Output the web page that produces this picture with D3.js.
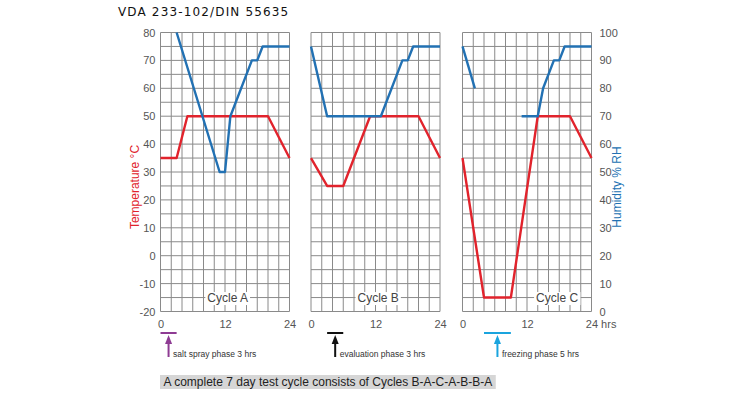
<!DOCTYPE html>
<html>
<head>
<meta charset="utf-8">
<script src="https://cdn.jsdelivr.net/npm/d3@7"></script>
<style>
  body { margin: 0; background: #fff; }
  svg { display: block; font-family: "Liberation Sans", Arial, sans-serif; }
</style>
</head>
<body>
<div id="chart"></div>
<script>
// values
var cycleNames = ["Cycle A", "Cycle B", "Cycle C"];
var cycleLabelHour = [12.5, 12.5, 17.6];   // where the cycle label sits (hrs)
var cycleLabelTemp = -15;

// temperature (°C) by hour, one array per cycle
var tempA = [[0, 35], [3, 35], [5, 50], [20, 50], [24, 35]];
var tempB = [[0, 35], [3, 25], [6, 25], [11, 50], [20, 50], [24, 35]];
var tempC = [[0, 35], [4, -15], [9, -15], [14, 50], [20, 50], [24, 35]];

// humidity (% RH) by hour, cycle C has a gap
var rhA = [[3, 100], [11, 50], [12, 50], [13, 70], [17, 90], [18, 90], [19, 95], [24, 95]];
var rhB = [[0, 95], [3, 70], [13, 70], [17, 90], [18, 90], [19, 95], [24, 95]];
var rhC = [[[0, 95], [2.3, 80]], [[11, 70], [14, 70], [15, 80], [17, 90], [18, 90], [19, 95], [24, 95]]];

var tempTicks = [-20, -10, 0, 10, 20, 30, 40, 50, 60, 70, 80];
var rhTicks = [0, 10, 20, 30, 40, 50, 60, 70, 80, 90, 100];
var hourTicks = [0, 12, 24];

// phase markers: panel index, start hr, end hr, label
var phasePanel = [0, 1, 2];
var phaseStart = [0, 3, 4];
var phaseEnd = [3, 6, 9];
var phaseText = ["salt spray phase 3 hrs", "evaluation phase 3 hrs", "freezing phase 5 hrs"];
var phaseColor = ["#8e3b93", "#111111", "#1aa4de"];

var footnote = "A complete 7 day test cycle consists of Cycles B-A-C-A-B-B-A";

function draw() {
	"use strict"
	var W = 755, H = 399;
	var red = "#e1232c", blue = "#2271b3", grid = "#8a8a8a";

	var panelLeft = [160.5, 311, 462.5], panelW = 129;
	var top = 32.5, bottom = 311.5;

	var svg = d3.select("#chart").append("svg")
		.attr("width", W)
		.attr("height", H);

	var y = d3.scaleLinear().domain([-20, 80]).range([bottom, top]);
	var yRh = d3.scaleLinear().domain([0, 100]).range([bottom, top]);
	var plain = function(d){return String(d)}; // hyphen minus like the original

	var tempSets = [tempA, tempB, tempC];
	var rhSets = [[rhA], [rhB], rhC];

	// title
	svg.append("text")
		.attr("x", 118).attr("y", 15.5)
		.style("font-family", "'DejaVu Sans', sans-serif")
		.style("font-size", "12px")
		.style("letter-spacing", "1.15px")
		.attr("fill", "#111")
		.text("VDA 233-102/DIN 55635");

	cycleNames.forEach(function(name, i){
		var x = d3.scaleLinear().domain([0, 24]).range([panelLeft[i], panelLeft[i] + panelW]);
		var g = svg.append("g");

		// grid, every 2 hrs and every 5 °C
		g.selectAll("line.v")
			.data(d3.range(0, 25, 2))
			.enter().append("line")
				.attr("x1", function(d){return x(d)}).attr("x2", function(d){return x(d)})
				.attr("y1", top).attr("y2", bottom)
				.attr("stroke", grid).attr("stroke-width", 1);
		g.selectAll("line.h")
			.data(d3.range(-20, 81, 5))
			.enter().append("line")
				.attr("x1", x(0)).attr("x2", x(24))
				.attr("y1", function(d){return y(d)}).attr("y2", function(d){return y(d)})
				.attr("stroke", grid).attr("stroke-width", 1);

		// cycle label with white patch behind it
		var patch = g.append("rect").attr("fill", "#fff");
		var lbl = g.append("text")
			.attr("x", x(cycleLabelHour[i])).attr("y", y(cycleLabelTemp) + 4.5)
			.attr("text-anchor", "middle")
			.style("font-size", "12px")
			.attr("fill", "#444")
			.text(name);
		var bb = lbl.node().getBBox();
		patch.attr("x", bb.x - 2).attr("y", bb.y + 1)
			.attr("width", bb.width + 4).attr("height", bb.height - 1);

		// x axis labels
		var xa = g.append("g")
			.attr("transform", "translate(0," + (bottom + 3) + ")")
			.call(d3.axisBottom(x).tickValues(hourTicks).tickFormat(plain).tickSize(0).tickPadding(6));
		xa.select(".domain").remove();
		xa.selectAll("text").style("font-size", "11px").attr("fill", "#555")
			.style("font-family", "'Liberation Sans', Arial, sans-serif");
		if (i == 2) {
			xa.selectAll("text").filter(function(d){return d == 24})
				.attr("text-anchor", "start").attr("dx", "-6.2")
				.text("24 hrs");
		}

		var line = d3.line()
			.x(function(d){return x(d[0])});

		// temperature
		g.append("path")
			.datum(tempSets[i])
			.attr("d", line.y(function(d){return y(d[1])}))
			.attr("fill", "none").attr("stroke", red)
			.attr("stroke-width", 2.4).attr("stroke-linejoin", "round");

		// humidity
		rhSets[i].forEach(function(seg){
			g.append("path")
				.datum(seg)
				.attr("d", line.y(function(d){return yRh(d[1])}))
				.attr("fill", "none").attr("stroke", blue)
				.attr("stroke-width", 2.4).attr("stroke-linejoin", "round");
		});
	});

	// left axis, temperature
	var ya = svg.append("g")
		.attr("transform", "translate(" + (panelLeft[0] - 2) + ",0)")
		.call(d3.axisLeft(y).tickValues(tempTicks).tickFormat(plain).tickSize(0).tickPadding(3));
	ya.select(".domain").remove();
	ya.selectAll("text").style("font-size", "11px").attr("fill", "#555")
		.style("font-family", "'Liberation Sans', Arial, sans-serif");

	// right axis, humidity
	var ra = svg.append("g")
		.attr("transform", "translate(" + (panelLeft[2] + panelW + 5) + ",0)")
		.call(d3.axisRight(yRh).tickValues(rhTicks).tickFormat(plain).tickSize(0).tickPadding(3));
	ra.select(".domain").remove();
	ra.selectAll("text").style("font-size", "11px").attr("fill", "#555")
		.style("font-family", "'Liberation Sans', Arial, sans-serif");

	svg.append("text")
		.attr("transform", "translate(139," + 187 + ") rotate(-90)")
		.attr("text-anchor", "middle")
		.style("font-size", "12px")
		.attr("fill", red)
		.text("Temperature °C");

	svg.append("text")
		.attr("transform", "translate(621," + 187 + ") rotate(-90)")
		.attr("text-anchor", "middle")
		.style("font-size", "12px")
		.attr("fill", blue)
		.text("Humidity % RH");

	// phase markers under the panels
	phaseText.forEach(function(t, k){
		var p = phasePanel[k];
		var x = d3.scaleLinear().domain([0, 24]).range([panelLeft[p], panelLeft[p] + panelW]);
		var mid = x((phaseStart[k] + phaseEnd[k]) / 2);
		var g = svg.append("g");
		g.append("line")
			.attr("x1", x(phaseStart[k])).attr("x2", x(phaseEnd[k]))
			.attr("y1", 333).attr("y2", 333)
			.attr("stroke", phaseColor[k]).attr("stroke-width", 2);
		g.append("line")
			.attr("x1", mid).attr("x2", mid)
			.attr("y1", 342).attr("y2", 357)
			.attr("stroke", phaseColor[k]).attr("stroke-width", 2);
		g.append("path")
			.attr("d", "M" + (mid - 3.5) + ",344 L" + mid + ",335 L" + (mid + 3.5) + ",344 Z")
			.attr("fill", phaseColor[k]);
		g.append("text")
			.attr("x", mid + 4.5).attr("y", 356.5)
			.style("font-size", "8.5px")
			.attr("fill", "#333")
			.text(t);
	});

	// footnote on grey band
	var band = svg.append("rect").attr("fill", "#d6d6d6");
	var fn = svg.append("text")
		.attr("x", 163.5).attr("y", 385.5)
		.style("font-size", "12px")
		.attr("fill", "#222")
		.text(footnote);
	var fb = fn.node().getBBox();
	band.attr("x", 160).attr("y", 375)
		.attr("width", fb.width + 7).attr("height", 14);
}

draw();
</script>
</body>
</html>
